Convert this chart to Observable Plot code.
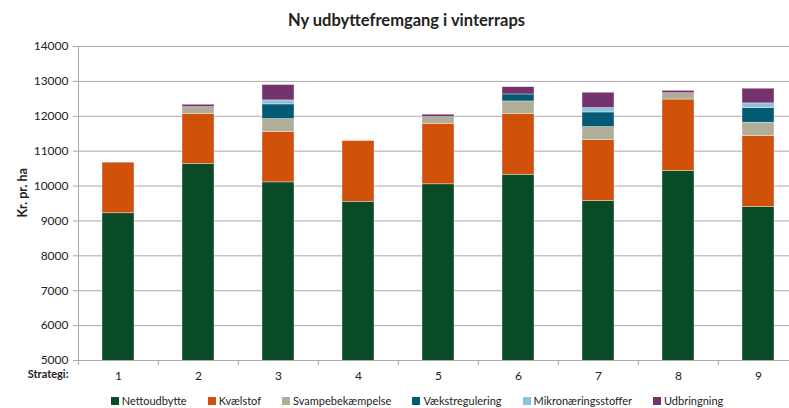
<!DOCTYPE html>
<html>
<head>
<meta charset="utf-8">
<script src="https://cdn.jsdelivr.net/npm/d3@7"></script>
<script src="https://cdn.jsdelivr.net/npm/@observablehq/plot@0.6"></script>
<style>
  body { margin: 0; background: #fff; font-family: Lato, "Open Sans", sans-serif; }
  #title { height: 36px; line-height: 40px; text-align: center; font-weight: bold; font-size: 16.5px; color: #222; padding-left: 24px; }
  #chart svg { display: block; }
  #legend { display: flex; justify-content: center; height: 22px; line-height: 24px; font-size: 11px; color: #222; padding-left: 45px; column-gap: 21px; }
  #legend .item { display: flex; align-items: center; white-space: nowrap; }
  #legend .sw { width: 8px; height: 8px; margin-right: 3px; display: inline-block; }
</style>
</head>
<body>
<div id="title">Ny udbyttefremgang i vinterraps</div>
<div id="chart"></div>
<div id="legend"></div>
<script>
const strategies = ["1", "2", "3", "4", "5", "6", "7", "8", "9"];
const seriesNames = ["Nettoudbytte", "Kvælstof", "Svampebekæmpelse", "Vækstregulering", "Mikronæringsstoffer", "Udbringning"];
const colors = ["#0a4b27", "#cf510a", "#b0ae98", "#045a73", "#8cc2dd", "#74336c"];
const nettoudbytte        = [9220, 10630, 10105, 9550, 10050, 10325, 9570, 10430, 9400];
const kvaelstof           = [1450, 1440, 1440, 1740, 1735, 1745, 1745, 2050, 2040];
const svampebekaempelse   = [0, 190, 375, 0, 190, 355, 375, 180, 375];
const vaekstregulering    = [0, 0, 420, 0, 0, 200, 420, 0, 420];
const mikronaering        = [0, 0, 115, 0, 0, 0, 125, 0, 135];
const udbringning         = [0, 70, 440, 0, 70, 210, 440, 70, 420];
const yTicks = [5000, 6000, 7000, 8000, 9000, 10000, 11000, 12000, 13000, 14000];

const seriesValues = [nettoudbytte, kvaelstof, svampebekaempelse, vaekstregulering, mikronaering, udbringning];
const data = [];
seriesNames.forEach((s, i) => strategies.forEach((st, j) => data.push({strategi: st, serie: s, value: seriesValues[i][j]})));

const W = 789, H = 354, mL = 78, mR = -9;
const step = (W - mL - mR) / strategies.length;
const font = "Lato, 'Open Sans', sans-serif";

const chart = Plot.plot({
  width: W, height: H,
  marginLeft: mL, marginRight: mR, marginTop: 10, marginBottom: 30,
  style: {fontFamily: font, fontSize: "12px", color: "#222", overflow: "visible"},
  x: {domain: strategies, paddingInner: 0.6, paddingOuter: 0.3, label: null},
  y: {domain: [5000, 14000], label: null},
  color: {domain: seriesNames, range: colors},
  marks: [
    Plot.gridY(yTicks, {stroke: "#a8a8a8", strokeOpacity: 1, strokeWidth: 1}),
    Plot.barY(data, {x: "strategi", y: "value", fill: "serie", z: "serie", clip: true, stroke: "#ffffff", strokeWidth: 0.6, strokeOpacity: 0.6}),
    Plot.frame({anchor: "left", stroke: "#a8a8a8"}),
    Plot.axisY(yTicks, {tickSize: 5, tickPadding: 5, stroke: "#a8a8a8", tickFormat: "d", label: null, fontSize: 12}),
    Plot.axisX({tickSize: 0, tickPadding: 11, label: null, fontSize: 12}),
    Plot.axisX({tickSize: 5, tickFormat: () => "", dx: -step / 2, stroke: "#a8a8a8", label: null}),
    Plot.text(["Strategi:"], {frameAnchor: "bottom-left", dx: -10, dy: 17, textAnchor: "end", fontWeight: "bold", fontSize: 11}),
    Plot.text(["Kr. pr. ha"], {frameAnchor: "left", rotate: -90, dx: -56, dy: 14, fontWeight: "bold", fontSize: 12.5})
  ]
});
document.getElementById("chart").appendChild(chart);

const legend = document.getElementById("legend");
seriesNames.forEach((s, i) => {
  const item = document.createElement("span");
  item.className = "item";
  const sw = document.createElement("span");
  sw.className = "sw";
  sw.style.background = colors[i];
  item.appendChild(sw);
  item.appendChild(document.createTextNode(s));
  legend.appendChild(item);
});
</script>
</body>
</html>
